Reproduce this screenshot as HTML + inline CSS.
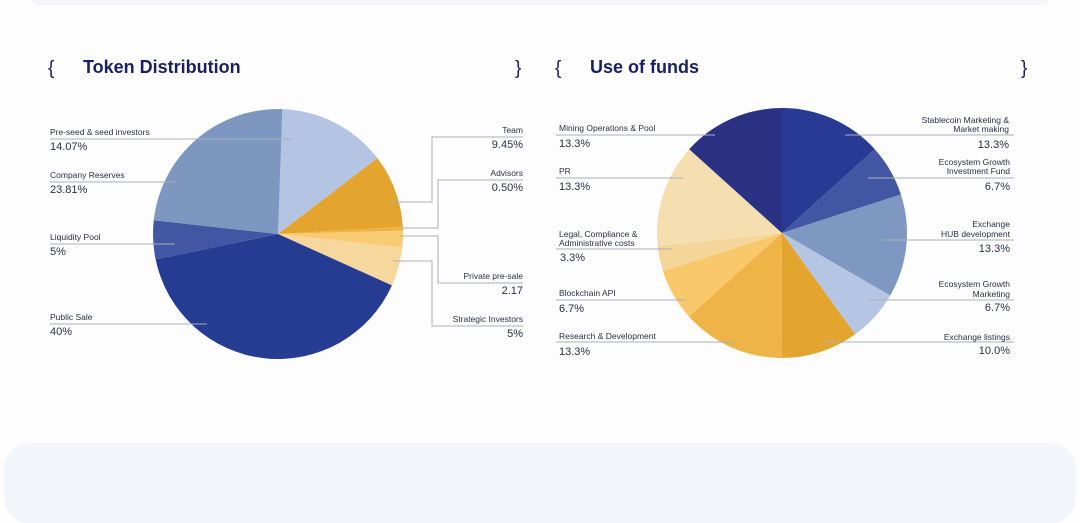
<!DOCTYPE html>
<html><head><meta charset="utf-8">
<style>
html,body{margin:0;padding:0;background:#fdfdfe;width:1080px;height:481px;overflow:hidden;font-family:"Liberation Sans",sans-serif}
.top{position:absolute;left:28px;top:-20px;width:1024px;height:25px;background:#f2f6fb;border-radius:18px}
.bot{position:absolute;left:4px;top:443px;width:1072px;height:80px;background:#f2f6fb;border-radius:26px}
svg{position:absolute;left:0;top:0}
</style></head><body>
<div class="top"></div>
<div class="bot"></div>
<svg id="c" width="1080" height="481">
<g font-family="Liberation Sans, sans-serif" fill="#1b1f5e">
<text x="48" y="74" font-size="19">{</text>
<text x="83" y="73" font-size="18" font-weight="bold">Token Distribution</text>
<text x="515" y="74" font-size="19">}</text>
<text x="555" y="74" font-size="19">{</text>
<text x="590" y="73" font-size="18" font-weight="bold">Use of funds</text>
<text x="1021" y="74" font-size="19">}</text>
</g>
<g id="pies"></g>
<g id="lines" stroke="#aab0bb" stroke-width="1" fill="none"></g>
<g id="labels" font-family="Liberation Sans, sans-serif" fill="#2a2f45"></g>
</svg>
<script>
const tdNames=["Pre-seed & seed investors","Team","Advisors","Private pre-sale","Strategic Investors","Public Sale","Liquidity Pool","Company Reserves"];
const tdValues=[14.07,9.45,0.5,2.17,5,40,5,23.81];
const tdLabels=["14.07%","9.45%","0.50%","2.17","5%","40%","5%","23.81%"];
const tdColors=["#b3c5e3","#e4a52f","#efb13f","#f9cb73","#f6d89f","#263c92","#4356a3","#7d97c0"];
const ufNames=["Stablecoin Marketing & Market making","Ecosystem Growth Investment Fund","Exchange HUB development","Ecosystem Growth Marketing","Exchange listings","Research & Development","Blockchain API","Legal, Compliance & Administrative costs","PR","Mining Operations & Pool"];
const ufValues=[13.3,6.7,13.3,6.7,10.0,13.3,6.7,3.3,13.3,13.3];
const ufLabels=["13.3%","6.7%","13.3%","6.7%","10.0%","13.3%","6.7%","3.3%","13.3%","13.3%"];
const ufColors=["#283a94","#4356a3","#7f98c2","#b4c6e4","#e3a52e","#eeb448","#f8c86a","#f4d59a","#f5dfb0","#2a3183"];
const NS="http://www.w3.org/2000/svg";
function pie(cx,cy,r,vals,cols,names,start,prefix){
  const g=document.getElementById('pies');
  const tot=vals.reduce((a,b)=>a+b,0);let a=start;
  vals.forEach((v,i)=>{
    const a2=a+v/tot*2*Math.PI;
    const x1=cx+r*Math.sin(a),y1=cy-r*Math.cos(a),x2=cx+r*Math.sin(a2),y2=cy-r*Math.cos(a2);
    const p=document.createElementNS(NS,'path');
    p.setAttribute('d',`M${cx},${cy}L${x1},${y1}A${r},${r} 0 ${a2-a>Math.PI?1:0} 1 ${x2},${y2}Z`);
    p.setAttribute('fill',cols[i]);
    
    
    g.appendChild(p);a=a2;
  });
}
pie(278,234,125,tdValues,tdColors,tdNames,0.035,'token');
pie(782,233,125,ufValues,ufColors,ufNames,0,'funds');
const L=document.getElementById('lines'),T=document.getElementById('labels');
function ln(pts){const p=document.createElementNS(NS,'polyline');p.setAttribute('points',pts);


L.appendChild(p);}
function tx(x,y,s,size,anchor){const t=document.createElementNS(NS,'text');t.setAttribute('x',x);t.setAttribute('y',y);t.setAttribute('font-size',size);if(anchor)t.setAttribute('text-anchor',anchor);t.textContent=s;


T.appendChild(t);}
[[0,139,293],[7,182,175],[6,244,175],[5,324,207]].forEach(([i,y,px])=>{
  ln(`50,${y} ${px},${y}`);tx(50,y-4,tdNames[i],8.5);tx(50,y+11,tdLabels[i],11);
});
ln("390,202 432,202 432,137 523,137");tx(523,133,tdNames[1],8.5,'end');tx(523,148,tdLabels[1],11,'end');
ln("402,228 438,228 438,180 523,180");tx(523,176,tdNames[2],8.5,'end');tx(523,191,tdLabels[2],11,'end');
ln("400,236 438,236 438,283 523,283");tx(523,279,tdNames[3],8.5,'end');tx(523,294,tdLabels[3],11,'end');
ln("393,261 432,261 432,326 523,326");tx(523,322,tdNames[4],8.5,'end');tx(523,337,tdLabels[4],11,'end');
ln("556,135 715,135");tx(559,131,ufNames[9],8.5);tx(559,147,ufLabels[9],11);
ln("556,178 683,178");tx(559,174,ufNames[8],8.5);tx(559,190,ufLabels[8],11);
ln("556,249 672,249");tx(559,237,"Legal, Compliance &",8.5);tx(559,246,"Administrative costs",8.5);tx(560,261,ufLabels[7],11);
ln("556,300 686,300");tx(559,296,ufNames[6],8.5);tx(559,312,ufLabels[6],11);
ln("556,342 735,342");tx(559,339,ufNames[5],8.5);tx(559,355,ufLabels[5],11);
ln("845,135 1014,135");tx(1009,123,"Stablecoin Marketing &",8.5,'end');tx(1009,132,"Market making",8.5,'end');tx(1009,148,ufLabels[0],11,'end');
ln("868,178 1014,178");tx(1010,165,"Ecosystem Growth",8.5,'end');tx(1010,174,"Investment Fund",8.5,'end');tx(1010,190,ufLabels[1],11,'end');
ln("882,240 1014,240");tx(1010,227,"Exchange",8.5,'end');tx(1010,237,"HUB development",8.5,'end');tx(1010,252,ufLabels[2],11,'end');
ln("869,300 1014,300");tx(1010,287,"Ecosystem Growth",8.5,'end');tx(1010,297,"Marketing",8.5,'end');tx(1010,311,ufLabels[3],11,'end');
ln("823,342 1014,342");tx(1010,340,ufNames[4],8.5,'end');tx(1010,354,ufLabels[4],11,'end');
</script>
</body></html>
